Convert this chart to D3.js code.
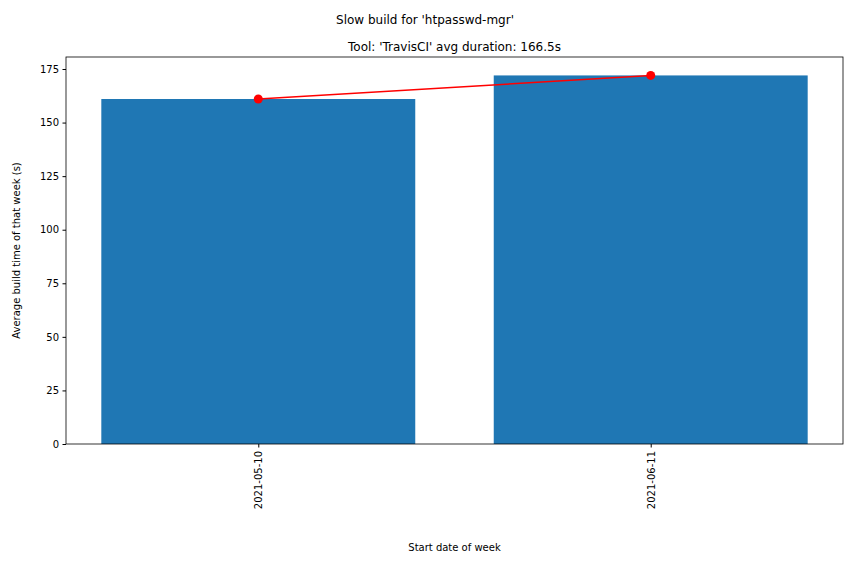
<!DOCTYPE html>
<html><head><meta charset="utf-8">
<script src="https://cdn.jsdelivr.net/npm/d3@7"></script>
<style>body{margin:0;background:#fff}text{font-family:"DejaVu Sans",sans-serif}</style>
</head><body><svg id="c" width="850" height="564"></svg>
<script>
const weeks = ["2021-05-10", "2021-06-11"];
const durations = [161, 172];
const yTicks = [0, 25, 50, 75, 100, 125, 150, 175];
const title = "Slow build for 'htpasswd-mgr'";
const subtitle = "Tool: 'TravisCI' avg duration: 166.5s";

const svg = d3.select("#c");
const L = 66, R = 843, T = 57, B = 444;
const n = weeks.length;
const x = d3.scaleLinear().domain([-0.4 - 0.05*(n-0.2), n-1+0.4 + 0.05*(n-0.2)]).range([L, R]);
const y = d3.scaleLinear().domain([0, d3.max(durations)*1.05]).range([B, T]);

svg.selectAll("rect.bar").data(durations).join("rect")
  .attr("x", (d,i)=>x(i-0.4)).attr("width", (d,i)=>x(i+0.4)-x(i-0.4))
  .attr("y", d=>y(d)).attr("height", d=>B-y(d)).attr("fill", "#1f77b4");

const line = d3.line().x((d,i)=>x(i)).y(d=>y(d));
svg.append("path").attr("d", line(durations)).attr("fill","none").attr("stroke","red").attr("stroke-width",1.5);
svg.selectAll("circle").data(durations).join("circle")
  .attr("cx",(d,i)=>x(i)).attr("cy",d=>y(d)).attr("r",4.5).attr("fill","red");

const ya = svg.append("g").attr("transform",`translate(${L},0)`)
  .call(d3.axisLeft(y).tickValues(yTicks).tickSize(3.5).tickPadding(3.5));
const xa = svg.append("g").attr("transform",`translate(0,${B})`)
  .call(d3.axisBottom(x).tickValues(d3.range(n)).tickFormat(i=>weeks[i]).tickSize(3.5));
xa.selectAll("text").attr("transform","rotate(-90)").attr("text-anchor","end")
  .attr("x",-7).attr("y",0).attr("dy","0.35em");
[ya,xa].forEach(g=>{g.selectAll("text").attr("font-size",10).attr("fill","#000").style("font-family","DejaVu Sans");
  g.selectAll("line").attr("stroke","#000"); g.select(".domain").remove();});
svg.append("rect").attr("x",L).attr("y",T).attr("width",R-L).attr("height",B-T)
  .attr("fill","none").attr("stroke","#000").attr("stroke-width",0.8);

svg.append("text").attr("x",(L+R)/2).attr("y",51).attr("text-anchor","middle").attr("font-size",12).text(subtitle);
svg.append("text").attr("x",425).attr("y",24).attr("text-anchor","middle").attr("font-size",12).text(title);
svg.append("text").attr("x",(L+R)/2).attr("y",551).attr("text-anchor","middle").attr("font-size",10).text("Start date of week");
svg.append("text").attr("transform",`translate(20,${(T+B)/2}) rotate(-90)`).attr("text-anchor","middle").attr("font-size",10).text("Average build time of that week (s)");
</script></body></html>
